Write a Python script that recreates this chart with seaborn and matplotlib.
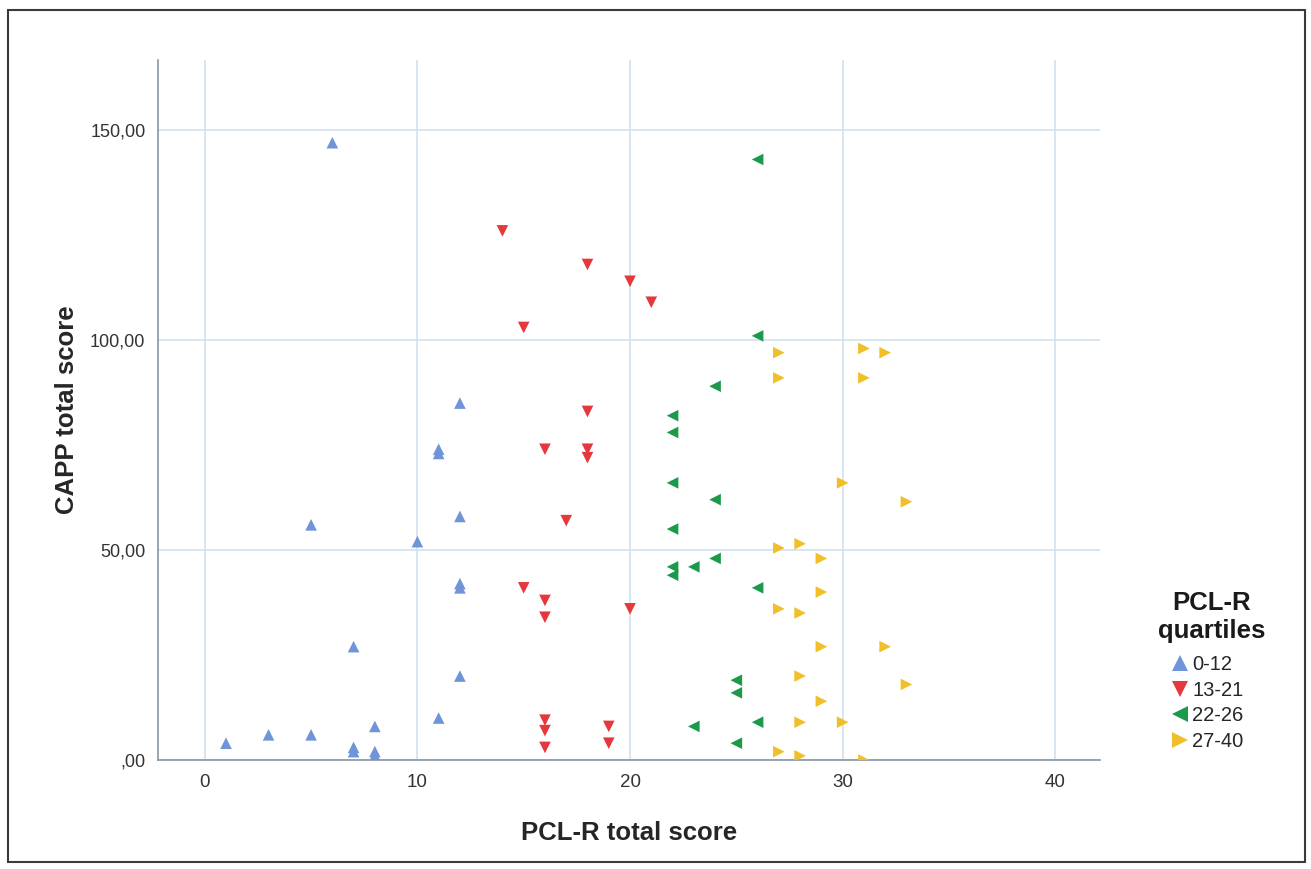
import numpy as np
import pandas as pd
import matplotlib
matplotlib.use('Agg')
import matplotlib.pyplot as plt
import seaborn as sns
from matplotlib.ticker import FuncFormatter, MultipleLocator
from matplotlib.patches import Rectangle

sns.set_style('white')
plt.rcParams['font.family'] = ['Liberation Sans', 'DejaVu Sans']

# 数据 - 四个分组
groups = ['0-12', '13-21', '22-26', '27-40']

x_0_12 = [6, 12, 11, 11, 5, 12, 10, 12, 12, 7, 12, 11, 1, 3, 5, 8, 7, 7, 8, 8]
y_0_12 = [147, 85, 74, 73, 56, 58, 52, 42, 41, 27, 20, 10, 4, 6, 6, 8, 3, 2, 2, 1]

x_13_21 = [14, 18, 20, 21, 15, 18, 16, 18, 18, 17, 15, 16, 16, 20, 16, 16, 16, 19, 19]
y_13_21 = [126, 118, 114, 109, 103, 83, 74, 74, 72, 57, 41, 38, 34, 36, 9.5, 7, 3, 8, 4]

x_22_26 = [26, 26, 24, 22, 22, 22, 24, 22, 24, 22, 22, 23, 26, 25, 25, 26, 23, 25]
y_22_26 = [143, 101, 89, 82, 78, 66, 62, 55, 48, 46, 44, 46, 41, 19, 16, 9, 8, 4]

x_27_40 = [27, 27, 31, 32, 31, 30, 33, 27, 28, 29, 29, 27, 28, 29, 32, 28, 33, 29, 28, 30, 27, 28, 31]
y_27_40 = [97, 91, 98, 97, 91, 66, 61.5, 50.5, 51.5, 48, 40, 36, 35, 27, 27, 20, 18, 14, 9, 9, 2, 1, 0]

xs = [x_0_12, x_13_21, x_22_26, x_27_40]
ys = [y_0_12, y_13_21, y_22_26, y_27_40]
df = pd.concat([pd.DataFrame({'PCL-R': x, 'CAPP': y, 'quartile': g})
                for x, y, g in zip(xs, ys, groups)], ignore_index=True)

palette = {'0-12': '#6f95d8', '13-21': '#e5383d', '22-26': '#1c9a4c', '27-40': '#f0bf2a'}
markers = {'0-12': '^', '13-21': 'v', '22-26': '<', '27-40': '>'}

fig = plt.figure(figsize=(13.11, 8.69), dpi=100)
ax = fig.add_axes([0.1205, 0.1254, 0.7185, 0.8056])

sns.scatterplot(data=df, x='PCL-R', y='CAPP', hue='quartile', style='quartile',
                palette=palette, markers=markers, s=70, linewidth=0, ax=ax,
                zorder=3)

ax.set_xlim(-2.2, 42.1)
ax.set_ylim(0, 166.7)
ax.xaxis.set_major_locator(MultipleLocator(10))
ax.yaxis.set_major_locator(MultipleLocator(50))

def fmt_y(v, pos):
    s = f'{v:.2f}'.replace('.', ',')
    return s[1:] if s.startswith('0') else s

ax.yaxis.set_major_formatter(FuncFormatter(fmt_y))
ax.grid(True, color='#cfe2ee', linewidth=1.2)
ax.set_axisbelow(True)

for side in ['top', 'right']:
    ax.spines[side].set_visible(False)
for side in ['left', 'bottom']:
    ax.spines[side].set_color('#8797a6')
    ax.spines[side].set_linewidth(1.2)

ax.tick_params(axis='y', length=4, color='#8797a6', labelsize=13, labelcolor='#333333', pad=5)
ax.tick_params(axis='x', length=0, labelsize=13.5, labelcolor='#333333', pad=10)

ax.set_xlabel('PCL-R total score', fontsize=18.5, fontweight='bold', labelpad=22)
ax.set_ylabel('CAPP total score', fontsize=18.5, fontweight='bold', labelpad=8)

# 图例：标题单独放置
handles, labels = ax.get_legend_handles_labels()
leg = ax.legend(handles, labels, frameon=False,
                loc='upper left', bbox_to_anchor=(1158 / 1311, 1 - 645 / 869),
                bbox_transform=fig.transFigure, fontsize=14.5, markerscale=1.4,
                handletextpad=0.0, labelspacing=0.33, handlelength=1.2,
                borderpad=0)
fig.text(1212 / 1311, 1 - 617 / 869, 'PCL-R\nquartiles', ha='center', va='center',
         fontsize=18.5, fontweight='bold', linespacing=1.2, color='#1a1a1a')

# 外边框
fig.patches.append(Rectangle((8 / 1311, 1 - 862 / 869), 1297 / 1311, 852 / 869,
                             transform=fig.transFigure, fill=False,
                             edgecolor='#3a3a3a', linewidth=1.5))

fig.savefig('out.png', dpi=100)
